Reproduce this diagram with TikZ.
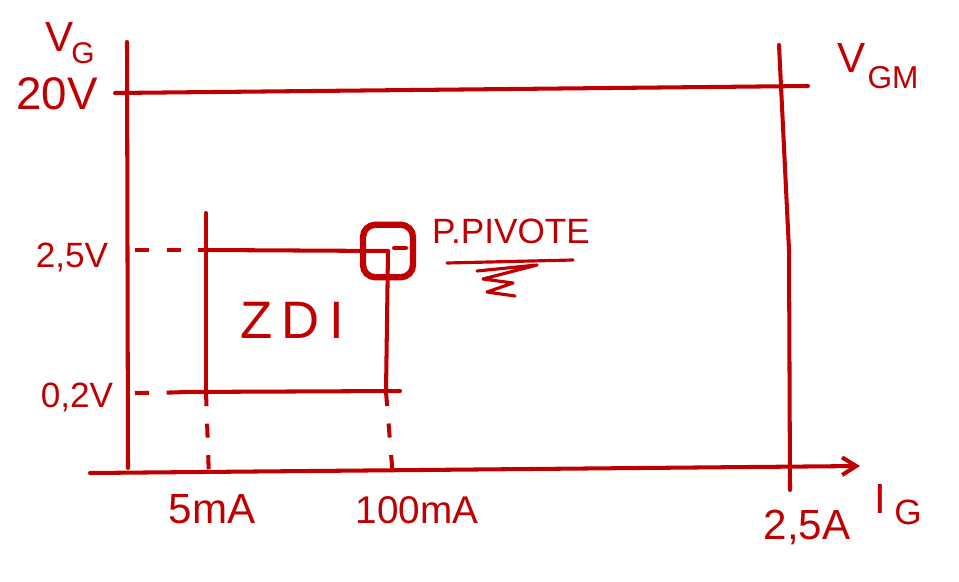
\documentclass[tikz,border=0pt]{standalone}
\usepackage{fontspec}
\setmainfont{Liberation Sans}
\usepackage{xcolor}
\usetikzlibrary{arrows.meta}
\definecolor{penred}{RGB}{192,0,0}

\begin{document}
\begin{tikzpicture}[
        x=0.02cm, y=-0.02cm,
        pen/.style={draw=penred, line width=2.3pt, line cap=round},
        guide/.style={draw=penred, line width=2.3pt, dash pattern=on 8pt off 10pt},
        lbl/.style={text=penred, inner sep=0pt, font=\fontsize{24}{26}\selectfont},
        small/.style={text=penred, inner sep=0pt, font=\fontsize{20}{22}\selectfont},
        sub/.style={text=penred, inner sep=0pt, font=\fontsize{17}{19}\selectfont},
        pivotbox/.style={draw=penred, line width=3.6pt, rounded corners=7pt, minimum width=1.0cm, minimum height=1.05cm, inner sep=0pt}
    ]
        \useasboundingbox (0,0) rectangle (959,581);

        % axes
        \coordinate (yaxbot) at (128,468);
        \coordinate (yaxtop) at (127,42);
        \coordinate (xaxleft) at (90,473);
        \coordinate (xaxright) at (860,466);
        \draw[pen] (yaxbot) -- (yaxtop);
        \draw[pen, -{Straight Barb[length=8pt, width=10pt, line width=2.3pt]}] (xaxleft) -- (xaxright);

        % limits
        \coordinate (vgmleft) at (115,93);
        \coordinate (vgmright) at (808,86);
        \coordinate (igmtop) at (779,45);
        \coordinate (igmbend) at (789,250);
        \coordinate (igmbot) at (790,490);
        \draw[pen] (vgmleft) -- (vgmright);
        \draw[pen] (igmtop) -- (igmbend) -- (igmbot);

        % zone ZDI
        \coordinate (zdinw) at (206,250);
        \coordinate (zdisw) at (206,392);
        \coordinate (zdise) at (386,392);
        \node[pivotbox] (pivot) at (388,251) {};
        \draw[pen] (206,213) -- (zdisw);
        \draw[pen] (zdinw) -- (pivot.center);
        \draw[pen] (pivot.center) -- (zdise);
        \draw[pen] (180,392) -- (400,391);
        \draw[pen] (pivot.center) ++(6,-3) -- ++(12,0);

        % guides
        \draw[guide] (135,250) -- (zdinw);
        \draw[guide] (135,393) -- (zdisw);
        \draw[guide] (zdisw) -- (209,478);
        \draw[guide] (zdise) -- (393,478);

        % labels
        \node[lbl] (vg) at (60,37) {V};
        \node[sub] (vgsub) at (83,53) {G};
        \node[lbl, font=\fontsize{26}{28}\selectfont] (vmax) at (57,94) {20V};
        \node[small] (vhigh) at (72,257) {2,5V};
        \node[small] (vlow) at (77,397) {0,2V};
        \node[lbl] (imin) at (212,509) {5mA};
        \node[lbl, font=\fontsize{22}{24}\selectfont] (ipivot) at (417,510) {100mA};
        \node[lbl] (imax) at (807,527) {2,5A};
        \node[lbl] (ig) at (880,499) {I};
        \node[lbl, font=\fontsize{20}{22}\selectfont] (igsub) at (908,512) {G};
        \node[lbl] (vgm) at (852,58) {V};
        \node[lbl, font=\fontsize{18}{20}\selectfont] (vgmsub) at (893,78) {GM};
        \node[lbl, font=\fontsize{30}{32}\selectfont\addfontfeatures{LetterSpace=18}] (zdi) at (292,320) {ZDI};
        \node[small] (pivottext) at (511,231) {P.PIVOTE};

        % underline
        \draw[penred, line width=1.8pt, line cap=round] (447,263) -- (573,260);
        \draw[penred, line width=1.8pt, line cap=round, line join=round]
            (477,271) -- (537,265) -- (483,279) -- (513,283) -- (487,292) -- (515,296);
    \end{tikzpicture}
\end{document}
